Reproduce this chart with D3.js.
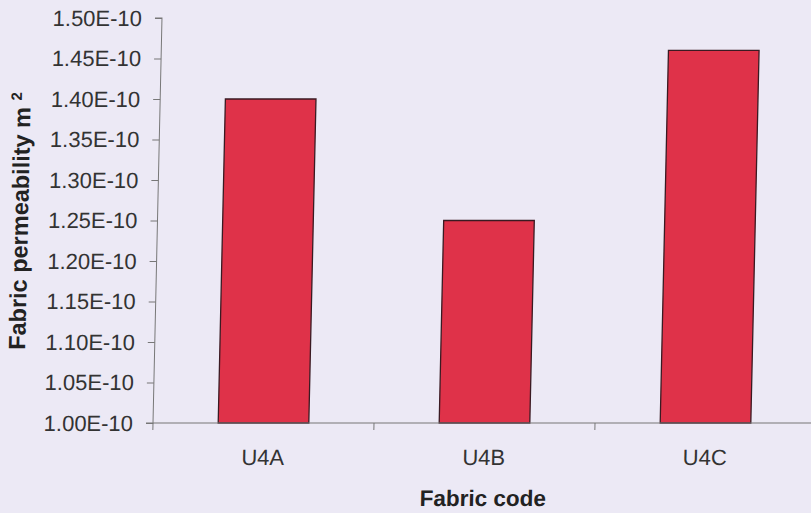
<!DOCTYPE html>
<html><head><meta charset="utf-8">
<script src="https://cdn.jsdelivr.net/npm/d3@7"></script>
<style>
html,body{margin:0;padding:0;background:#ece9f5;}
svg{display:block;}
text{font-family:"Liberation Sans",Arial,sans-serif;}
</style></head>
<body>
<svg id="chart" width="811" height="513"></svg>
<script>
const categories = ["U4A", "U4B", "U4C"];
const values = [1.40e-10, 1.25e-10, 1.46e-10];
const yTicks = [1.00e-10, 1.05e-10, 1.10e-10, 1.15e-10, 1.20e-10, 1.25e-10, 1.30e-10, 1.35e-10, 1.40e-10, 1.45e-10, 1.50e-10];

(function () {
const root = d3.select("#chart");
const W = 811, H = 513;
root.append("rect").attr("width", W).attr("height", H).attr("fill", "#ece9f5");

// the scanned original is slightly sheared
const skewDeg = -1.27;
const svg = root.append("g").attr("transform", `translate(${(Math.tan(-skewDeg * Math.PI / 180) * 220).toFixed(2)},0) skewX(${skewDeg})`);

const mLeft = 157.5, mTop = 18, mBottom = 423;
const bandW = 221;
const x = d3.scaleBand().domain(categories).range([mLeft, mLeft + bandW * categories.length]).paddingInner(0.59).paddingOuter(0.295);
const y = d3.scaleLinear().domain([1.00e-10, 1.50e-10]).range([mBottom, mTop]);

const fmt = v => (v / 1e-10).toFixed(2) + "E-10";

// bars
svg.append("g").selectAll("rect").data(categories).join("rect")
  .attr("x", d => x(d))
  .attr("y", (d, i) => y(values[i]))
  .attr("width", x.bandwidth())
  .attr("height", (d, i) => y(1.00e-10) - y(values[i]))
  .attr("fill", "#df3249")
  .attr("stroke", "#3a1a22")
  .attr("stroke-width", 1.3);

// y axis
const yAxis = d3.axisLeft(y).tickValues(yTicks).tickFormat(fmt).tickSize(7).tickPadding(13);
const gy = svg.append("g").attr("transform", `translate(${mLeft},0)`).call(yAxis);
gy.select(".domain").attr("stroke", "#777").attr("d", `M-7,${mTop}H0V${mBottom}H-7`);
gy.selectAll(".tick line").attr("stroke", "#777");
gy.selectAll(".tick text").attr("fill", "#333").attr("font-size", 22);

// x axis
const xLin = d3.scaleLinear().domain([0, categories.length]).range([mLeft, mLeft + bandW * categories.length]);
const gx = svg.append("g").attr("transform", `translate(0,${mBottom})`);
gx.append("line").attr("x1", mLeft).attr("x2", W + 20).attr("y1", 0).attr("y2", 0).attr("stroke", "#777");
gx.selectAll("line.tk").data(d3.range(categories.length + 1)).join("line").attr("class", "tk")
  .attr("x1", d => xLin(d)).attr("x2", d => xLin(d))
  .attr("y1", 0).attr("y2", 7).attr("stroke", "#777");
gx.selectAll("text").data(categories).join("text")
  .attr("x", d => x(d) + x.bandwidth() / 2)
  .attr("y", 42)
  .attr("text-anchor", "middle")
  .attr("fill", "#333")
  .attr("font-size", 22)
  .text(d => d);

// axis titles
svg.append("text").attr("x", mLeft + bandW * 1.5).attr("y", 506)
  .attr("text-anchor", "middle").attr("font-weight", "bold").attr("font-size", 22.5).attr("fill", "#222")
  .text("Fabric code");

const yt = svg.append("text")
  .attr("transform", `translate(28,221) rotate(-90)`)
  .attr("text-anchor", "middle").attr("font-weight", "bold").attr("font-size", 23.5).attr("fill", "#222");
yt.append("tspan").text("Fabric permeability m ");
yt.append("tspan").attr("dy", -9).attr("font-size", 15).text("2");
})();
</script>
</body></html>
